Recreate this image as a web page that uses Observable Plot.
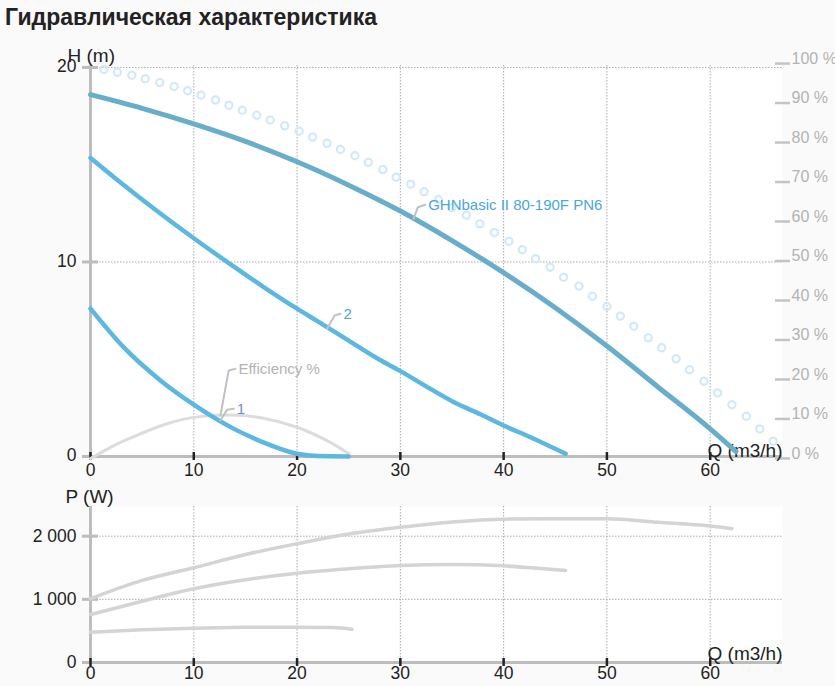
<!DOCTYPE html>
<html><head><meta charset="utf-8">
<script src="https://cdn.jsdelivr.net/npm/d3@7"></script>
<script src="https://cdn.jsdelivr.net/npm/@observablehq/plot@0.6"></script>
<style>
body{margin:0;background:#fafafa;font-family:"Liberation Sans",Arial,sans-serif;}
#title{height:30px;font-size:23px;font-weight:bold;color:#222;padding-left:5px;line-height:35px;white-space:nowrap;}
svg{display:block}
#chart svg:nth-child(2){margin-top:-8px}
</style></head><body>
<div id="title">Гидравлическая характеристика</div>
<div id="chart"></div>
<script>
// ticks
const qTicks = [0,10,20,30,40,50,60];
const hTicks = [0,10,20];
const pTicks = [0,1000,2000];
const pctTicks = [0,10,20,30,40,50,60,70,80,90,100];

// H-Q curves
const mainQ = [0,5,10,15,20,25,30,35,40,45,50,55,60,62.5];
const mainH = [18.6,17.9,17.1,16.2,15.15,13.95,12.62,11.1,9.45,7.65,5.68,3.55,1.42,0.25];
const c2Q = [0,3,6,10,13.5,16.8,20,22,25,28,30,33,35.2,37.8,40,42.6,46];
const c2H = [15.35,14.05,12.8,11.22,9.9,8.7,7.6,6.95,5.96,4.97,4.39,3.45,2.79,2.16,1.59,0.99,0.14];
const c1Q = [0,3.2,6.8,10,13.9,17.1,20,22,25];
const c1H = [7.6,5.62,3.9,2.67,1.42,0.65,0.14,0.02,0];
// max curve (circles)
const maxQ = [1.3,2.6,4.0,5.3,6.7,8.1,9.4,10.7,12.1,13.4,14.7,16.1,17.4,18.8,20.2,21.5,22.9,24.2,25.6,26.9,28.3,29.6,31.0,32.3,33.7,35.0,36.4,37.7,39.1,40.5,41.8,43.1,44.5,45.8,47.3,48.6,50.0,51.3,52.6,54.0,55.3,56.7,58.0,59.4,60.7,62.1,63.5,64.8,66.1];
const maxH = [19.9,19.75,19.6,19.42,19.22,19.02,18.8,18.57,18.33,18.06,17.8,17.54,17.3,17.0,16.72,16.42,16.1,15.78,15.46,15.12,14.75,14.36,14.0,13.61,13.2,12.79,12.4,11.96,11.52,11.07,10.63,10.17,9.73,9.22,8.76,8.24,7.71,7.21,6.7,6.1,5.59,5.02,4.46,3.87,3.27,2.66,2.07,1.42,0.79];
// efficiency (%)
const effQ = [0,2.6,4.8,7.4,10,13.6,16.5,20,22.9,25];
const effPct = [0,3.7,6.2,8.8,10.4,11.0,10.3,7.9,4.5,1.2];

// power curves (W)
const p3Q = [0,5,10,15,20,25,30,35,40,45,50,55,60,62.1];
const p3W = [1010,1300,1500,1710,1880,2035,2140,2225,2270,2275,2275,2220,2160,2117];
const p2Q = [0,5,10,15,20,25,30,35,40,43,46];
const p2W = [760,970,1167,1310,1414,1483,1536,1552,1530,1495,1457];
const p1Q = [0,5,10,15,20,23.5,25.3];
const p1W = [480,518,543,558,560,555,525];

// label annotations (data units)
const labelNames = ["GHNbasic II 80-190F PN6","2","Efficiency %","1"];
const labelColors = ["#4aa6dc","#4aa6dc","#b3b3b3","#6f8fd8"];
const leaderQ = [[31.27,31.69,32.4],[22.9,23.64,24.2],[12.58,13.38,14.03],[12.58,13.23,13.87]];
const leaderH = [[12.22,12.81,12.94],[6.57,7.25,7.34],[2.11,4.42,4.51],[1.85,2.4,2.45]];

const pctToH = p => -0.1 + 0.203 * p;
const zip = (xs, ys) => xs.map((x,i) => ({x, y: ys[i]}));

const mainData = zip(mainQ, mainH);
const c2Data = zip(c2Q, c2H);
const c1Data = zip(c1Q, c1H);
const maxData = zip(maxQ, maxH);
const effData = zip(effQ, effPct.map(pctToH));
const leaders = labelNames.flatMap((name, k) => leaderQ[k].map((q, j) => ({k, x: q, y: leaderH[k][j]})));
const labels = labelNames.map((name, k) => ({name, color: labelColors[k], x: leaderQ[k][2], y: leaderH[k][2]}));

const font = '"Liberation Sans", Arial, sans-serif';
const grid = {stroke:"#aaa", strokeDasharray:"1.5,1.5", strokeWidth:1};
const fmtSpace = d => d3.format(",")(d).replace(/,/g, " ");

const topChart = Plot.plot({
  width: 835, height: 456,
  marginTop: 35, marginBottom: 30, marginLeft: 90, marginRight: 53,
  style: {background: "transparent", fontFamily: font, fontSize: "17.5px", color: "#222", overflow: "hidden"},
  x: {domain: [0, 67]},
  y: {domain: [0, 20.1]},
  marks: [
    Plot.frame({fill: "white", stroke: "none"}),
    Plot.ruleX(qTicks.filter(d => d > 0), grid),
    Plot.ruleY(hTicks.filter(d => d > 0), grid),
    Plot.ruleX([0], {stroke: "#bdbdbd", strokeWidth: 3}),
    Plot.ruleY([0], {stroke: "#bdbdbd", strokeWidth: 3, insetLeft: -8}),
    Plot.ruleY(hTicks, {x1: 0, x2: 0, insetLeft: -8, insetRight: -8, stroke: "#bdbdbd", strokeWidth: 3}),
    Plot.ruleX(qTicks, {y1: 0, y2: 0, insetTop: -4, insetBottom: -4, stroke: "#222", strokeWidth: 2.5}),
    Plot.axisX(qTicks, {label: null, tickSize: 0, tickPadding: 7.5, fontSize: 17.5, fill: "#222"}),
    Plot.axisY(hTicks, {label: null, tickSize: 0, tickPadding: 14, fontSize: 17.5, fill: "#222", dy: -1}),
    Plot.axisY(pctTicks.map(pctToH), {label: null, anchor: "right", tickSize: 15, dx: -8, stroke: "#c4c4c4", strokeWidth: 2.5, fill: "none", tickFormat: () => ""}),
    Plot.axisY(pctTicks.map(pctToH), {label: null, anchor: "right", tickSize: 0, tickPadding: 9, dy: -5, fill: "#b3b3b3", fontSize: 16, tickFormat: d => Math.round((d + 0.1) / 0.203) + " %"}),
    Plot.text(["H (m)"], {frameAnchor: "top-left", lineAnchor: "middle", text: d => d, textAnchor: "start", dx: -23, dy: -10, fontSize: 19, fill: "#222"}),
    Plot.text(["Q (m3/h)"], {frameAnchor: "bottom-right", lineAnchor: "middle", text: d => d, textAnchor: "end", dy: -6, fontSize: 19, fill: "#222"}),
    Plot.dot(maxData, {x: "x", y: "y", r: 3.6, stroke: "#d3eaf6", strokeWidth: 2.2, fill: "none"}),
    Plot.line(effData, {x: "x", y: "y", stroke: "#dcdcdc", strokeWidth: 3, curve: "catmull-rom"}),
    Plot.line(c1Data, {x: "x", y: "y", stroke: "#5cb8e0", strokeWidth: 4.5, curve: "monotone-x"}),
    Plot.line(c2Data, {x: "x", y: "y", stroke: "#5cb8e0", strokeWidth: 4.5, curve: "monotone-x"}),
    Plot.line(mainData, {x: "x", y: "y", stroke: "#68aeca", strokeWidth: 5, curve: "monotone-x"}),
    Plot.line(leaders, {x: "x", y: "y", z: "k", stroke: "#c2c2c2", strokeWidth: 2}),
    Plot.text(labels, {x: "x", y: "y", text: "name", fill: "color", textAnchor: "start", dx: 3, fontSize: 15})
  ]
});

const bottomChart = Plot.plot({
  width: 835, height: 208,
  marginTop: 28, marginBottom: 24, marginLeft: 90, marginRight: 53,
  style: {background: "transparent", fontFamily: font, fontSize: "17.5px", color: "#222", overflow: "hidden"},
  x: {domain: [0, 67]},
  y: {domain: [0, 2470]},
  marks: [
    Plot.frame({fill: "white", stroke: "none"}),
    Plot.ruleX(qTicks.filter(d => d > 0), grid),
    Plot.ruleY(pTicks.filter(d => d > 0), grid),
    Plot.ruleX([0], {stroke: "#bdbdbd", strokeWidth: 3}),
    Plot.ruleY([0], {stroke: "#bdbdbd", strokeWidth: 3, insetLeft: -8}),
    Plot.ruleY(pTicks, {x1: 0, x2: 0, insetLeft: -8, insetRight: -8, stroke: "#bdbdbd", strokeWidth: 3}),
    Plot.ruleX(qTicks, {y1: 0, y2: 0, insetTop: -4, insetBottom: -4, stroke: "#222", strokeWidth: 2.5}),
    Plot.axisX(qTicks, {label: null, tickSize: 0, tickPadding: 4.5, fontSize: 17.5, fill: "#222"}),
    Plot.axisY(pTicks, {label: null, tickSize: 0, tickPadding: 14, fontSize: 17.5, fill: "#222", tickFormat: fmtSpace}),
    Plot.text(["P (W)"], {frameAnchor: "top-left", lineAnchor: "middle", text: d => d, textAnchor: "start", dx: -25, dy: -10, fontSize: 19, fill: "#222"}),
    Plot.text(["Q (m3/h)"], {frameAnchor: "bottom-right", lineAnchor: "middle", text: d => d, textAnchor: "end", dy: -9, fontSize: 19, fill: "#222"}),
    Plot.line(zip(p1Q, p1W), {x: "x", y: "y", stroke: "#d4d4d4", strokeWidth: 3.5, curve: "monotone-x"}),
    Plot.line(zip(p2Q, p2W), {x: "x", y: "y", stroke: "#d4d4d4", strokeWidth: 3.5, curve: "monotone-x"}),
    Plot.line(zip(p3Q, p3W), {x: "x", y: "y", stroke: "#d4d4d4", strokeWidth: 3.5, curve: "monotone-x"})
  ]
});

const chart = document.getElementById("chart");
chart.appendChild(topChart);
chart.appendChild(bottomChart);
</script>
</body></html>
